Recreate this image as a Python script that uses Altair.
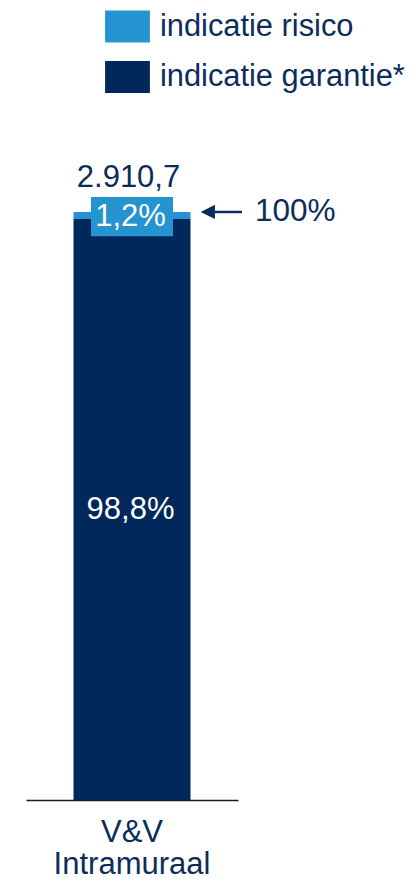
import altair as alt
import pandas as pd

# ---- data ----
category = "V&V Intramuraal"
series = ["indicatie risico", "indicatie garantie*"]
shares = [1.2, 98.8]          # percent of total
total = 2910.7
reference_pct = 100

LIGHT = "#2593D0"
DARK = "#00285A"
TEXT = "#0B2D5B"
FONT = "Liberation Sans"


def nl(v, d=1):
    s = f"{v:,.{d}f}"
    return s.replace(",", "X").replace(".", ",").replace("X", ".")


bars = pd.DataFrame({
    "cat": [category] * len(series),
    "series": series,
    "pct": shares,
    "order": [1, 0],
})

ann = pd.DataFrame({
    "cat": [category],
    "top": [sum(shares)],
    "mid": [shares[1] / 2],
    "total_lbl": [nl(total)],
    "risk_lbl": [nl(shares[0]) + "%"],
    "gar_lbl": [nl(shares[1]) + "%"],
    "ref_lbl": [f"{reference_pct}%"],
})

xscale = alt.Scale(range=[18, 230], paddingInner=0, paddingOuter=0)
xaxis = alt.Axis(title=None, ticks=False, domainColor="#1a1a1a", domainWidth=1.5,
                 labelFont=FONT, labelFontSize=31, labelColor=TEXT, labelPadding=17,
                 labelLineHeight=32, labelAngle=0, labelLimit=400,
                 labelExpr="split(datum.value, ' ')")
X = alt.X("cat:N", scale=xscale, axis=xaxis)
yscale = alt.Scale(domain=[0, 134.69], nice=False, zero=False)

bar = alt.Chart(bars).mark_bar(width=117).encode(
    x=X,
    y=alt.Y("pct:Q", stack="zero", scale=yscale, axis=None),
    order=alt.Order("order:Q", sort="ascending"),
    color=alt.Color("series:N",
                    scale=alt.Scale(domain=series, range=[LIGHT, DARK]),
                    legend=alt.Legend(title=None, orient="none", legendX=103.5, legendY=2.5,
                                      symbolType="M-1.4,-1L1.4,-1L1.4,1L-1.4,1Z",
                                      symbolSize=1024, symbolStrokeWidth=0,
                                      labelFont=FONT, labelFontSize=30.8, labelColor=TEXT,
                                      labelOffset=16.5, rowPadding=18.5, padding=0,
                                      labelLimit=400)),
)

base = alt.Chart(ann).encode(x=X)
Ytop = alt.Y("top:Q", scale=yscale, axis=None)

box = base.mark_point(shape="M-1,-0.48L1,-0.48L1,0.48L-1,0.48Z", size=82 * 82,
                      filled=True, fill=LIGHT, opacity=1, strokeWidth=0,
                      yOffset=4.7).encode(y=Ytop)

risk_txt = base.mark_text(font=FONT, fontSize=31, color="white", baseline="middle",
                          xOffset=-1.5, yOffset=4.7).encode(y=Ytop, text="risk_lbl:N")

gar_txt = base.mark_text(font=FONT, fontSize=31, color="white", baseline="middle",
                         xOffset=-1.5).encode(
    y=alt.Y("mid:Q", scale=yscale, axis=None), text="gar_lbl:N")

tot_txt = base.mark_text(font=FONT, fontSize=31, color=TEXT, baseline="middle",
                         xOffset=-3.5, yOffset=-33.7).encode(y=Ytop, text="total_lbl:N")

arrow_line = base.mark_tick(size=27, thickness=2.5, color=TEXT, xOffset=96.5,
                            opacity=1).encode(y=Ytop)

arrow_head = base.mark_point(shape="M-1,0L1,-1L1,1Z", size=204, filled=True,
                             fill=TEXT, opacity=1, strokeWidth=0,
                             xOffset=75.8).encode(y=Ytop)

ref_txt = base.mark_text(font=FONT, fontSize=31.5, color=TEXT, baseline="middle",
                         align="left", xOffset=123, yOffset=0.5).encode(
    y=Ytop, text="ref_lbl:N")

chart = alt.layer(bar, box, risk_txt, gar_txt, tot_txt, arrow_line, arrow_head, ref_txt).properties(
    width=400, height=792,
    autosize=alt.AutoSizeParams(type="none"),
    padding={"left": 0, "top": 0, "right": 0, "bottom": 82},
    background="white",
).configure_view(stroke=None)

chart.save("out.html", embed_options={"renderer": "svg", "actions": False})
